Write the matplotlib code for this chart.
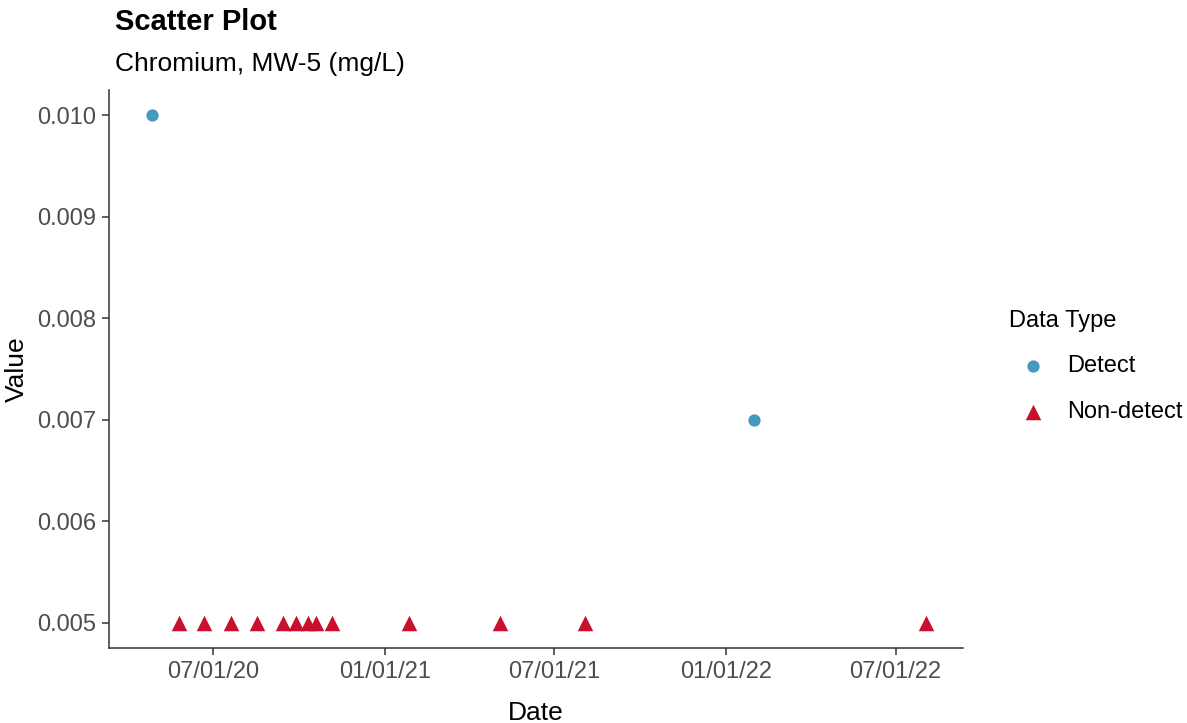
import matplotlib.pyplot as plt
import matplotlib.dates as mdates
import numpy as np

plt.rcParams['font.family'] = ['Liberation Sans', 'DejaVu Sans']

# dados
detect_dates = ["2020-04-27", "2022-01-31"]
detect_values = [0.010, 0.007]
nd_dates = ["2020-05-26", "2020-06-22", "2020-07-20", "2020-08-17", "2020-09-14",
            "2020-09-28", "2020-10-11", "2020-10-19", "2020-11-05", "2021-01-27",
            "2021-05-04", "2021-08-03", "2022-08-02"]
nd_values = [0.005] * len(nd_dates)
x_ticks = ["2020-07-01", "2021-01-01", "2021-07-01", "2022-01-01", "2022-07-01"]
y_ticks = [0.005, 0.006, 0.007, 0.008, 0.009, 0.010]

blue = "#4699BC"
red = "#C8102E"

fig = plt.figure(figsize=(11.87, 7.23), dpi=100)
ax = fig.add_axes([0.0918, 0.1037, 0.7195, 0.7718])

ax.scatter(np.array(detect_dates, dtype="datetime64[D]"), detect_values,
           s=78, color=blue, marker="o", linewidths=0, label="Detect")
ax.scatter(np.array(nd_dates, dtype="datetime64[D]"), nd_values,
           s=125, color=red, marker="^", linewidths=0, label="Non-detect")

ax.set_xlim(np.datetime64("2020-03-12"), np.datetime64("2022-09-11"))
ax.set_ylim(0.00475, 0.01025)
ax.set_xticks(np.array(x_ticks, dtype="datetime64[D]"))
ax.xaxis.set_major_formatter(mdates.DateFormatter("%m/%d/%y"))
ax.set_yticks(y_ticks)
ax.set_yticklabels([f"{v:.3f}" for v in y_ticks])

for side in ["top", "right"]:
    ax.spines[side].set_visible(False)
for side in ["left", "bottom"]:
    ax.spines[side].set_color("#333333")
    ax.spines[side].set_linewidth(1.1)
ax.tick_params(axis="both", colors="#333333", labelcolor="#4D4D4D",
               labelsize=17, length=5, width=1.1, pad=4)

ax.set_xlabel("Date", fontsize=19, labelpad=13)
ax.set_ylabel("Value", fontsize=19, labelpad=6)

fig.text(0.097, 0.970, "Scatter Plot", fontsize=21, fontweight="bold", va="center")
fig.text(0.097, 0.911, "Chromium, MW-5 (mg/L)", fontsize=19, va="center")

leg = ax.legend(title="Data Type", loc="center left", bbox_to_anchor=(1.04, 0.505),
                frameon=False, fontsize=17, title_fontsize=17,
                handletextpad=0.45, labelspacing=1.0, borderpad=0)
leg._legend_box.align = "left"

fig.savefig("out.png", dpi=100)
